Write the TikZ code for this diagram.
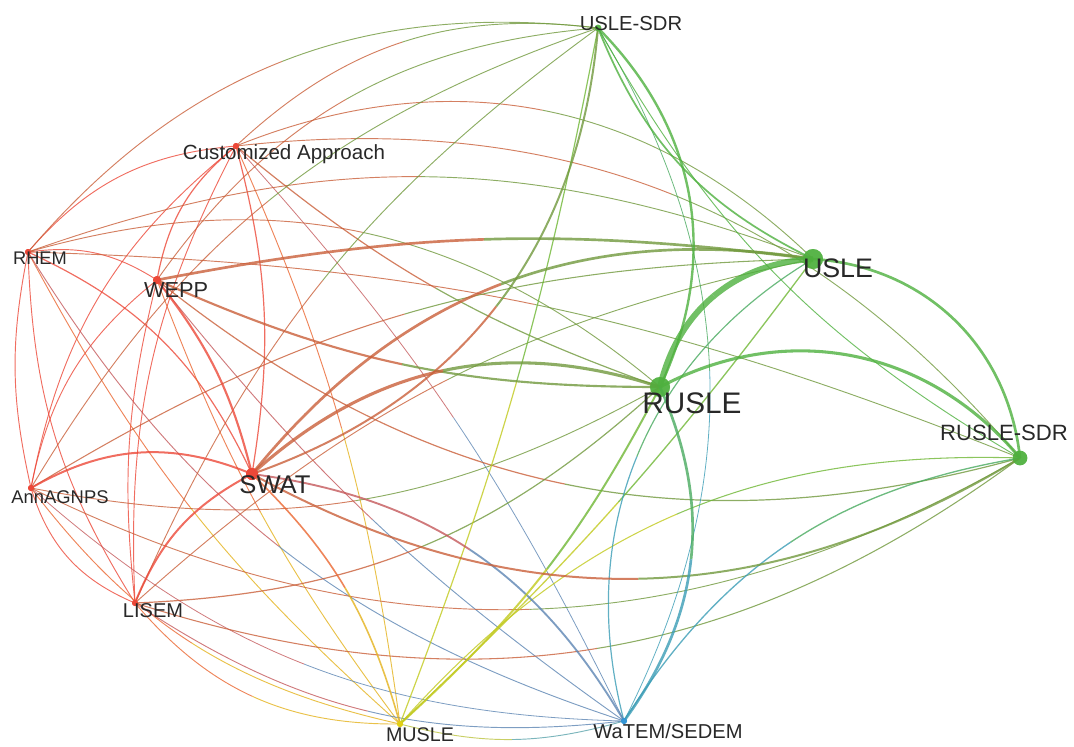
\documentclass[tikz,border=0pt]{standalone}
\usepackage{fontspec}
\setmainfont{Liberation Sans}
\usetikzlibrary{calc}
\definecolor{cR}{RGB}{236,72,56}
\definecolor{cG}{RGB}{78,176,62}
\definecolor{cY}{RGB}{226,208,20}
\definecolor{cB}{RGB}{52,150,214}
\definecolor{txt}{RGB}{40,40,40}
\tikzset{
  edgeline/.style={opacity=0.8, line cap=butt},
  reddot/.style={circle, fill=cR, inner sep=0pt, minimum size=#1},
  greendot/.style={circle, fill=cG, fill opacity=0.75, inner sep=0pt, minimum size=#1},
  yeldot/.style={circle, fill=cY, inner sep=0pt, minimum size=#1},
  bluedot/.style={circle, fill=cB, inner sep=0pt, minimum size=#1},
  lbl/.style={text=txt, anchor=base, inner sep=0pt},
}
% #1 from, #2 to, #3 bend angle (+ left), #4 colour at #1, #5 colour at #2, #6 width (pt)
\newcommand\E[6]{%
  \pgfmathsetmacro\negang{-(#3)}%
  \path ($(#1.center)!0.3915!#3:(#2.center)$) coordinate (q1)
        ($(#2.center)!0.3915!\negang:(#1.center)$) coordinate (q2);
  \path ($(#1.center)!0.5!(q1)$) coordinate (m01)
        ($(q1)!0.5!(q2)$) coordinate (m12)
        ($(q2)!0.5!(#2.center)$) coordinate (m23);
  \path ($(m01)!0.5!(m12)$) coordinate (m012)
        ($(m12)!0.5!(m23)$) coordinate (m123);
  \path ($(m012)!0.5!(m123)$) coordinate (mid);
  \draw[edgeline, line width=#6pt, draw=#4!78!#5] (#1.center) .. controls (m01) and (m012) .. (mid);
  \draw[edgeline, line width=#6pt, draw=#5!78!#4] (mid) .. controls (m123) and (m23) .. (#2.center);
}
\begin{document}
\begin{tikzpicture}[x=0.75pt, y=-0.75pt]
\useasboundingbox (0,0) rectangle (1074,746);
% node positions (dots)
\node[reddot=4.5pt] (CA) at (236,146) {};
\node[greendot=5pt] (USD) at (598,28) {};
\node[reddot=4.5pt] (RH) at (28,252) {};
\node[reddot=6pt] (WE) at (157,280) {};
\node[greendot=15pt] (U) at (813,259) {};
\node[greendot=15pt] (R) at (660,387) {};
\node[greendot=11pt] (RSD) at (1020,458) {};
\node[reddot=4.5pt] (AN) at (31,488) {};
\node[reddot=9pt] (SW) at (252,474) {};
\node[reddot=4.5pt] (LI) at (135,603) {};
\node[yeldot=4.5pt] (MU) at (400,724) {};
\node[bluedot=4.5pt] (WA) at (624,721) {};

% red cluster internal
\E{RH}{CA}{22}{cR}{cR}{0.7}
\E{RH}{WE}{20}{cR}{cR}{0.7}
\E{RH}{AN}{-12}{cR}{cR}{0.7}
\E{RH}{SW}{20}{cR}{cR}{0.9}
\E{RH}{LI}{-15}{cR}{cR}{0.7}
\E{CA}{WE}{-20}{cR}{cR}{0.9}
\E{AN}{CA}{20}{cR}{cR}{0.7}
\E{CA}{SW}{12}{cR}{cR}{0.9}
\E{CA}{LI}{-15}{cR}{cR}{0.7}
\E{WE}{AN}{-20}{cR}{cR}{0.7}
\E{WE}{LI}{-10}{cR}{cR}{0.7}
\E{AN}{LI}{-25}{cR}{cR}{0.7}
% red to yellow / blue
\E{RH}{MU}{-10}{cR}{cY}{0.7}
\E{CA}{MU}{8}{cR}{cY}{0.7}
\E{WE}{MU}{-8}{cR}{cY}{0.7}
\E{AN}{MU}{-20}{cR}{cY}{0.7}
\E{LI}{MU}{-25}{cR}{cY}{0.7}
\E{RH}{WA}{-20}{cR}{cB}{0.7}
\E{CA}{WA}{8}{cR}{cB}{0.6}
\E{WE}{WA}{-8}{cR}{cB}{0.7}
\E{AN}{WA}{-20}{cR}{cB}{0.6}
\E{LI}{WA}{-20}{cR}{cB}{0.7}
\E{MU}{WA}{-15}{cY}{cB}{0.7}
% red to green
\E{RH}{USD}{28}{cR}{cG}{0.7}
\E{RH}{U}{20}{cR}{cG}{0.7}
\E{RH}{R}{28}{cR}{cG}{0.7}
\E{RH}{RSD}{10}{cR}{cG}{0.7}
\E{CA}{USD}{25}{cR}{cG}{0.7}
\E{CA}{U}{33}{cR}{cG}{0.7}
\E{CA}{R}{-10}{cR}{cG}{0.9}
\E{CA}{RSD}{28}{cR}{cG}{0.7}
\E{WE}{USD}{25}{cR}{cG}{0.7}
\E{WE}{RSD}{-27}{cR}{cG}{0.9}
\E{AN}{USD}{20}{cR}{cG}{0.7}
\E{AN}{U}{15}{cR}{cG}{0.8}
\E{AN}{R}{-20}{cR}{cG}{0.7}
\E{AN}{RSD}{-28}{cR}{cG}{0.7}
\E{LI}{USD}{15}{cR}{cG}{0.7}
\E{LI}{U}{15}{cR}{cG}{0.7}
\E{LI}{R}{-20}{cR}{cG}{0.9}
\E{LI}{RSD}{-27}{cR}{cG}{0.8}
% green to yellow / blue
\E{USD}{MU}{5}{cG}{cY}{0.9}
\E{USD}{WA}{29}{cG}{cB}{0.6}
\E{MU}{U}{-5}{cY}{cG}{1.0}
\E{MU}{RSD}{25}{cY}{cG}{0.8}
\E{U}{WA}{-37}{cG}{cB}{0.9}
\E{RSD}{WA}{-24}{cG}{cB}{1.0}
\E{USD}{RSD}{-15}{cG}{cG}{0.7}
% thicker edges
\E{WE}{SW}{12}{cR}{cR}{1.6}
\E{AN}{SW}{26}{cR}{cR}{1.5}
\E{SW}{LI}{-20}{cR}{cR}{1.5}
\E{SW}{MU}{15}{cR}{cY}{1.2}
\E{SW}{WA}{26}{cR}{cB}{1.4}
\E{MU}{R}{-10}{cY}{cG}{1.5}
\E{WE}{R}{-12}{cR}{cG}{1.6}
\E{WE}{U}{9}{cR}{cG}{2.0}
\E{SW}{USD}{-33}{cR}{cG}{1.5}
\E{SW}{RSD}{-30}{cR}{cG}{1.5}
\E{SW}{U}{30}{cR}{cG}{2.0}
\E{SW}{R}{30}{cR}{cG}{2.3}
\E{R}{WA}{30}{cG}{cB}{2.0}
\E{USD}{U}{-21}{cG}{cG}{1.3}
\E{USD}{R}{35}{cG}{cG}{1.8}
\E{U}{RSD}{40}{cG}{cG}{2.0}
\E{R}{RSD}{39}{cG}{cG}{2.3}
\E{U}{R}{-37}{cG}{cG}{4.5}

% redraw dots on top
\fill[cR] (CA) circle (2.25pt);
\fill[cR] (RH) circle (2.25pt);
\fill[cR] (WE) circle (3pt);
\fill[cR] (AN) circle (2.25pt);
\fill[cR] (SW) circle (4.5pt);
\fill[cR] (LI) circle (2.25pt);
\fill[cY] (MU) circle (2.25pt);
\fill[cB] (WA) circle (2.25pt);
\fill[cG, fill opacity=0.75] (U) circle (7.5pt);
\fill[cG, fill opacity=0.75] (R) circle (7.5pt);
\fill[cG, fill opacity=0.75] (RSD) circle (5.5pt);
\fill[cG, fill opacity=0.75] (USD) circle (2.5pt);

% labels
\node[lbl, font=\fontsize{15.2pt}{16pt}\selectfont] (USD-l) at (631,31) {USLE-SDR};
\node[lbl, font=\fontsize{15.4pt}{16pt}\selectfont] (CA-l) at (284,159) {Customized Approach};
\node[lbl, font=\fontsize{13.7pt}{15pt}\selectfont] (RH-l) at (40,264.5) {RHEM};
\node[lbl, font=\fontsize{16.3pt}{17pt}\selectfont] (WE-l) at (176,297) {WEPP};
\node[lbl, font=\fontsize{20.1pt}{21pt}\selectfont] (U-l) at (838,277.6) {USLE};
\node[lbl, font=\fontsize{22.3pt}{23pt}\selectfont] (R-l) at (692,413.6) {RUSLE};
\node[lbl, font=\fontsize{16.6pt}{17pt}\selectfont] (RSD-l) at (1004,440) {RUSLE-SDR};
\node[lbl, font=\fontsize{13.8pt}{15pt}\selectfont] (AN-l) at (60,503.6) {AnnAGNPS};
\node[lbl, font=\fontsize{19.2pt}{20pt}\selectfont] (SW-l) at (275,493) {SWAT};
\node[lbl, font=\fontsize{15pt}{16pt}\selectfont] (LI-l) at (153,617) {LISEM};
\node[lbl, font=\fontsize{14.8pt}{16pt}\selectfont] (MU-l) at (420,741) {MUSLE};
\node[lbl, font=\fontsize{15.1pt}{16pt}\selectfont] (WA-l) at (668,738) {WaTEM/SEDEM};
\end{tikzpicture}
\end{document}
